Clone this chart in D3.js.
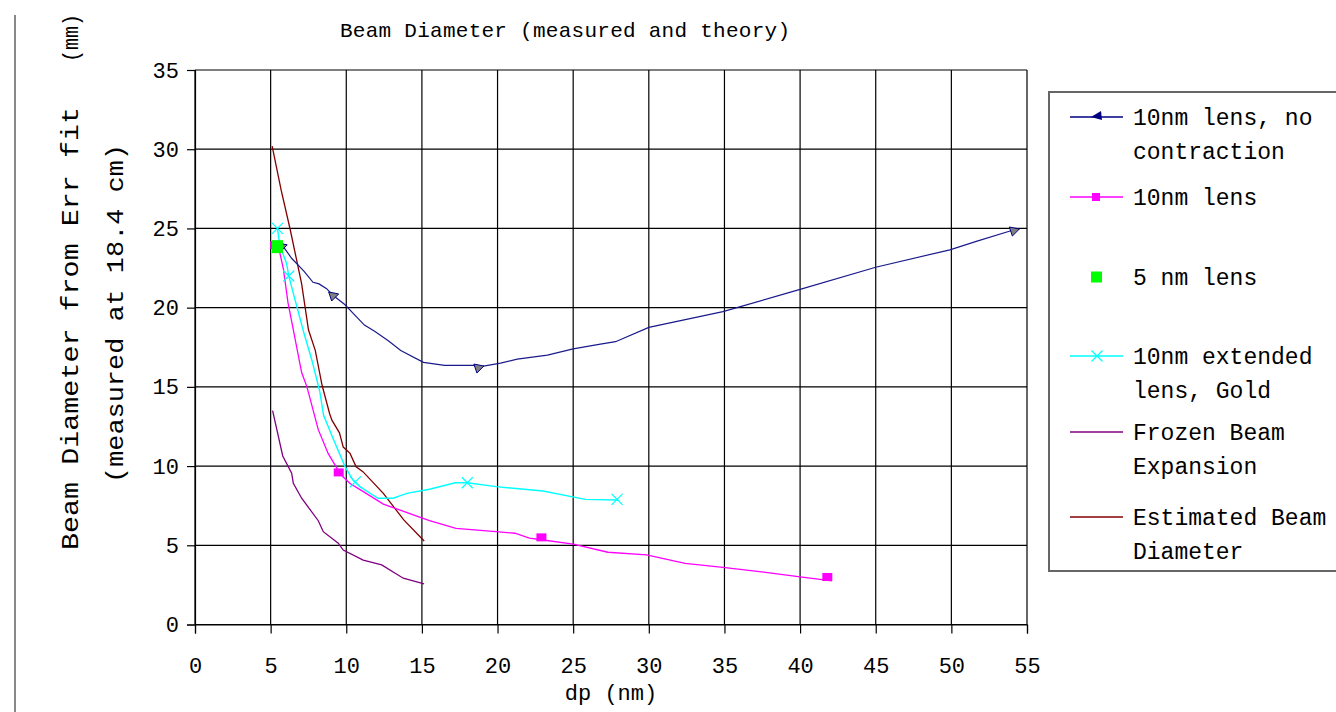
<!DOCTYPE html>
<html>
<head>
<meta charset="utf-8">
<script src="https://cdn.jsdelivr.net/npm/d3@7"></script>
<style>
  body { margin: 0; background: #fff; }
  svg { display: block; }
  text { font-family: "Liberation Mono", "DejaVu Sans Mono", monospace; fill: #000; }
</style>
</head>
<body>
<div id="chart"></div>
<script>
// tick values
var xTicks = [0, 5, 10, 15, 20, 25, 30, 35, 40, 45, 50, 55];
var yTicks = [0, 5, 10, 15, 20, 25, 30, 35];

// 10nm lens, no contraction (line + the few marked points)
var noContrLine = [[5.8,23.9],[6.4,23.1],[7.2,22.3],[7.8,21.6],[8.2,21.5],[8.7,21.2],[9.1,20.8],
  [9.9,20.2],[10.6,19.5],[11.2,18.9],[11.9,18.5],[12.8,17.9],[13.6,17.3],[15.1,16.55],[16.5,16.36],
  [18.4,16.36],[18.7,16.25],[20.2,16.5],[21.3,16.75],[23.3,17.0],[25.0,17.4],[26.8,17.7],[27.8,17.85],
  [30.0,18.75],[34.9,19.75],[36.0,20.05],[40.0,21.15],[45.0,22.55],[49.9,23.65],[51.7,24.2],[54.1,24.9]];
var noContrPts = [[5.7,23.9],[9.1,20.8],[18.7,16.25],[54.1,24.9]];

// 10nm lens
var lensLine = [[5.6,23.5],[5.85,22.4],[6.15,20.3],[6.5,18.6],[7.05,15.9],[7.4,15.0],[8.15,12.3],
  [8.8,10.8],[9.3,10.0],[9.6,9.5],[10.25,8.9],[11.1,8.4],[12.45,7.6],[14.2,7.0],[15.5,6.55],
  [17.25,6.07],[19.9,5.86],[21.15,5.76],[22.1,5.45],[22.9,5.35],[25.0,5.08],[27.3,4.56],[29.85,4.4],
  [32.4,3.86],[34.9,3.6],[37.6,3.3],[40.0,3.0],[42.1,2.75]];
var lensPts = [[5.3,23.95],[9.5,9.6],[22.9,5.5],[41.8,3.0]];

// 5 nm lens
var fiveNmPts = [[5.45,23.85]];

// 10nm extended lens, Gold
var extLine = [[5.45,25.0],[5.6,24.0],[5.85,23.3],[6.05,22.8],[6.2,22.0],[6.5,20.9],[7.2,18.4],
  [7.75,16.6],[8.25,14.7],[8.5,13.2],[9.1,11.8],[9.9,10.0],[10.45,9.1],[10.9,8.7],[12.1,7.97],
  [13.1,7.97],[14.0,8.28],[15.5,8.54],[17.2,8.95],[18.0,8.95],[19.9,8.7],[23.0,8.43],[25.8,7.9],[28.0,7.86]];
var extPts = [[5.45,25.0],[6.2,22.0],[10.6,9.0],[18.0,8.95],[27.9,7.9]];

// Frozen Beam Expansion
var frozenLine = [[5.13,13.5],[5.8,10.64],[6.39,9.55],[6.5,8.91],[7.05,7.97],[8.15,6.55],[8.48,5.86],
  [9.47,5.13],[9.8,4.7],[11.12,4.07],[12.34,3.76],[13.77,2.92],[15.14,2.56]];

// Estimated Beam Diameter
var estLine = [[5.1,30.2],[5.7,27.4],[6.3,24.9],[7.05,21.5],[7.5,18.6],[7.95,17.3],[8.4,15.1],
  [8.9,13.3],[9.05,12.9],[9.55,12.1],[9.8,11.2],[10.25,10.8],[10.65,9.96],[11.1,9.65],[12.45,8.28],
  [13.8,6.6],[15.15,5.27]];

var legendNames = [["10nm lens, no", "contraction"], ["10nm lens"], ["5 nm lens"],
  ["10nm extended", "lens, Gold"], ["Frozen Beam", "Expansion"], ["Estimated Beam", "Diameter"]];

// set the dimensions and margins of the graph
var margin = {top: 70, right: 309, bottom: 87.5, left: 195},
    width = 1336 - margin.left - margin.right,
    height = 712 - margin.top - margin.bottom;

var root = d3.select("#chart")
  .append("svg")
    .attr("width", 1336)
    .attr("height", 712);

// gray page edge on the left
root.append("line")
  .attr("x1", 15).attr("x2", 15).attr("y1", 15).attr("y2", 712)
  .style("stroke", "#888").style("stroke-width", 2);

var svg = root.append("g")
  .attr("transform", "translate(" + margin.left + "," + margin.top + ")");

var x = d3.scaleLinear().domain([0, 55]).range([0, width]);
var y = d3.scaleLinear().domain([0, 35]).range([height, 0]);

// grid
svg.append("g").selectAll("line.v").data(xTicks).enter().append("line")
  .attr("x1", d => x(d)).attr("x2", d => x(d)).attr("y1", 0).attr("y2", height)
  .style("stroke", "#000").style("stroke-width", 1.2);
svg.append("g").selectAll("line.h").data(yTicks).enter().append("line")
  .attr("x1", 0).attr("x2", width).attr("y1", d => y(d)).attr("y2", d => y(d))
  .style("stroke", "#000").style("stroke-width", 1.2);

// axes
var xAxis = svg.append("g")
  .attr("transform", "translate(0," + height + ")")
  .call(d3.axisBottom(x).tickValues(xTicks).tickSize(9).tickPadding(24).tickFormat(d3.format("d")));
var yAxis = svg.append("g")
  .call(d3.axisLeft(y).tickValues(yTicks).tickSize(8).tickPadding(8).tickFormat(d3.format("d")));
[xAxis, yAxis].forEach(function(a) {
  a.selectAll("text").style("font-size", "22px").style("font-family", "Liberation Mono");
  a.selectAll("line, path").style("stroke", "#000").style("stroke-width", 1.2);
});

var line = d3.line().x(d => x(d[0])).y(d => y(d[1]));

function drawLine(data, color, w) {
  svg.append("path").datum(data)
    .attr("d", line)
    .style("fill", "none").style("stroke", color).style("stroke-width", w);
}

drawLine(estLine, "#800000", 1.3);
drawLine(frozenLine, "#800080", 1.3);
drawLine(noContrLine, "#1a1a8c", 1.2);
drawLine(lensLine, "#ff00ff", 1.3);
drawLine(extLine, "#00ffff", 1.4);

// markers
var tri = "M-4,-3L6,-1L-1,6Z";
svg.append("g").selectAll("path").data(noContrPts).enter().append("path")
  .attr("d", tri)
  .attr("transform", d => "translate(" + x(d[0]) + "," + y(d[1]) + ")")
  .style("fill", "#808080").style("stroke", "#000080").style("stroke-width", 1);

svg.append("g").selectAll("rect").data(lensPts).enter().append("rect")
  .attr("x", d => x(d[0]) - 5).attr("y", d => y(d[1]) - 4)
  .attr("width", 10).attr("height", 8)
  .style("fill", "#ff00ff");

svg.append("g").selectAll("g").data(extPts).enter().append("path")
  .attr("d", "M-5.5,-5.5L5.5,5.5M-5.5,5.5L5.5,-5.5")
  .attr("transform", d => "translate(" + x(d[0]) + "," + y(d[1]) + ")")
  .style("stroke", "#00ffff").style("stroke-width", 1.2).style("fill", "none");

svg.append("g").selectAll("rect").data(fiveNmPts).enter().append("rect")
  .attr("x", d => x(d[0]) - 5.5).attr("y", d => y(d[1]) - 6.5)
  .attr("width", 11).attr("height", 13)
  .style("fill", "#00ff00");

// title
root.append("text")
  .attr("x", 340).attr("y", 37)
  .attr("textLength", 450).attr("lengthAdjust", "spacing")
  .style("font-size", "21px")
  .text("Beam Diameter (measured and theory)");

// x axis title
root.append("text")
  .attr("x", margin.left + width / 2).attr("y", 700)
  .attr("text-anchor", "middle")
  .style("font-size", "22px")
  .text("dp (nm)");

// y axis title, two lines
root.append("text")
  .attr("transform", "translate(78,550) rotate(-90)")
  .attr("textLength", 443).attr("lengthAdjust", "spacingAndGlyphs")
  .style("font-size", "23px")
  .text("Beam Diameter from Err fit");
root.append("text")
  .attr("transform", "translate(78,62) rotate(-90)")
  .attr("textLength", 48).attr("lengthAdjust", "spacingAndGlyphs")
  .style("font-size", "22px")
  .text("(mm)");
root.append("text")
  .attr("transform", "translate(123,483) rotate(-90)")
  .attr("textLength", 339).attr("lengthAdjust", "spacingAndGlyphs")
  .style("font-size", "23px")
  .text("(measured at 18.4 cm)");

// legend
var lg = root.append("g");
lg.append("rect")
  .attr("x", 1049).attr("y", 92).attr("width", 300).attr("height", 479)
  .style("fill", "#fff").style("stroke", "#666").style("stroke-width", 2);

var legendRows = [117, 197, 277, 356, 432, 517];
var legendColors = ["#000080", "#ff00ff", null, "#00ffff", "#800080", "#800000"];
legendRows.forEach(function(ry, i) {
  if (legendColors[i]) {
    lg.append("line")
      .attr("x1", 1070).attr("x2", 1123).attr("y1", ry).attr("y2", ry)
      .style("stroke", legendColors[i]).style("stroke-width", 1.4);
  }
  legendNames[i].forEach(function(t, j) {
    lg.append("text")
      .attr("x", 1133).attr("y", ry + 8 + j * 34)
      .style("font-size", "23px")
      .text(t);
  });
});
lg.append("path").attr("d", "M-6,0L4,-6L5,3Z")
  .attr("transform", "translate(1097," + legendRows[0] + ")")
  .style("fill", "#000080");
lg.append("rect").attr("x", 1092).attr("y", legendRows[1] - 4).attr("width", 8).attr("height", 8)
  .style("fill", "#ff00ff");
lg.append("rect").attr("x", 1091).attr("y", legendRows[2] - 5.5).attr("width", 11).attr("height", 11)
  .style("fill", "#00ff00");
lg.append("path").attr("d", "M-5.5,-5.5L5.5,5.5M-5.5,5.5L5.5,-5.5")
  .attr("transform", "translate(1097," + legendRows[3] + ")")
  .style("stroke", "#00ffff").style("stroke-width", 1.2);
</script>
</body>
</html>
